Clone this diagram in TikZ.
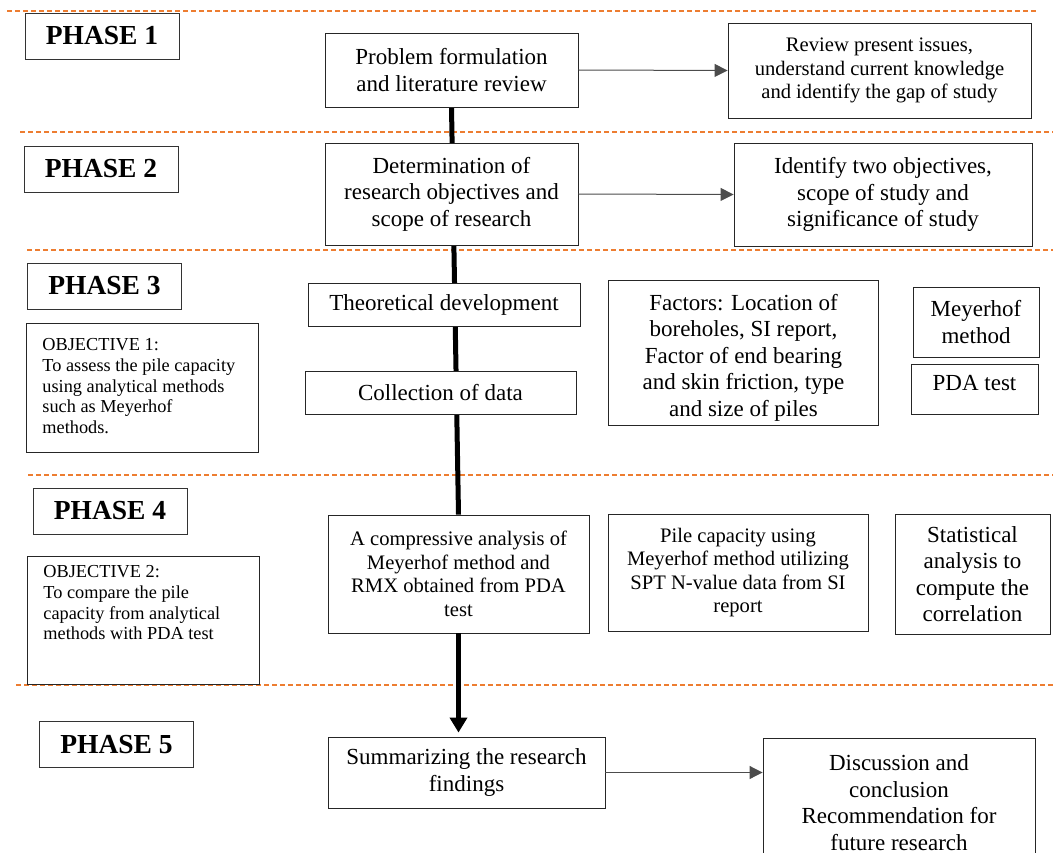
\documentclass[tikz,border=0pt]{standalone}
\usepackage{fontspec}
\setmainfont{Liberation Serif}
\usetikzlibrary{arrows.meta,backgrounds}
\definecolor{sepline}{RGB}{237,125,49}

\begin{document}
\begin{tikzpicture}[
        x=1pt, y=-1pt,
        phase/.style={draw=black!80,line width=0.9pt,fill=white,font=\fontsize{27.5}{30}\selectfont\bfseries,minimum width=154,minimum height=46},
        stepbox/.style={draw=black!85,line width=0.9pt,fill=white,align=center,font=\fontsize{23}{26.5}\selectfont},
        smallbox/.style={stepbox,font=\fontsize{20.6}{23.6}\selectfont},
        objbox/.style={draw=black!85,line width=0.9pt,fill=white,anchor=north west,align=flush left,text width=200,inner xsep=16,text height=14,font=\fontsize{18.3}{20.8}\selectfont},
        link/.style={line width=1pt,black!70,-{Triangle[length=13pt,width=13pt]}},
        spine/.style={line width=5pt,black},
        divider/.style={sepline,line width=1.2pt,dash pattern=on 5pt off 3pt}
    ]
        \useasboundingbox (0,0) rectangle (1053,853);

        % Phase labels
        \node[phase] (ph1) at (102,36) {PHASE 1};
        \node[phase] (ph2) at (101,169) {PHASE 2};
        \node[phase] (ph3) at (104.5,286) {PHASE 3};
        \node[phase] (ph4) at (110,511) {PHASE 4};
        \node[phase] (ph5) at (116.5,744.5) {PHASE 5};

        % Objectives
        \node[objbox,inner ysep=13,text depth=89] (obj1) at (26,323) {OBJECTIVE 1:\\To assess the pile capacity\\using analytical methods\\such as Meyerhof\\methods.};
        \node[objbox,inner ysep=7,text depth=100] (obj2) at (27,556) {OBJECTIVE 2:\\To compare the pile\\capacity from analytical\\methods with PDA test};

        % Main steps
        \node[stepbox,minimum width=253,minimum height=74] (prob) at (451.5,70) {Problem formulation\\and literature review};
        \node[stepbox,minimum width=253,minimum height=102] (det) at (451.5,194) {Determination of\\research objectives and\\scope of research};
        \node[stepbox,minimum width=272,minimum height=43] (theo) at (444,304.5) {Theoretical development};
        \node[stepbox,minimum width=271,minimum height=43] (coll) at (440.5,392.5) {Collection of data};
        \node[smallbox,minimum width=261,minimum height=118] (comp) at (458.5,574) {A compressive analysis of\\Meyerhof method and\\RMX obtained from PDA\\test};
        \node[stepbox,minimum width=277,minimum height=71] (summ) at (466.5,772.5) {Summarizing the research\\findings};

        % Side boxes
        \node[smallbox,minimum width=303,minimum height=95] (review) at (879.5,70.5) {Review present issues,\\understand current knowledge\\and identify the gap of study};
        \node[stepbox,minimum width=298,minimum height=103] (ident) at (883,194.5) {Identify two objectives,\\scope of study and\\significance of study};
        \node[stepbox,anchor=north,align=flush center,text width=260,inner xsep=5,inner ysep=5,text height=25,text depth=110] (fact) at (743.5,280) {Factors: Location of\\boreholes, SI report,\\Factor of end bearing\\and skin friction, type\\and size of piles};
        \node[stepbox,minimum width=126,minimum height=70] (meyer) at (976,322) {Meyerhof\\method};
        \node[stepbox,minimum width=127,minimum height=50,text depth=12] (pda) at (974.5,389) {PDA test};
        \node[smallbox,minimum width=260,minimum height=117] (pile) at (738,572.5) {Pile capacity using\\Meyerhof method utilizing\\SPT N-value data from SI\\report};
        \node[stepbox,minimum width=155,minimum height=120] (stat) at (972.5,574) {Statistical\\analysis to\\compute the\\correlation};
        \node[stepbox,anchor=north,minimum width=272,minimum height=128] (disc) at (899,738) {Discussion and\\conclusion\\Recommendation for\\future research};

        % Phase dividers and the main line behind the boxes
        \begin{scope}[on background layer]
            \foreach \y/\xa/\xb in {11/7/1038,132/20/1053,250/27/1053,475/28/1053,685/16/1053}
                \draw[divider] (\xa,\y) -- (\xb,\y);
            \draw[spine] (prob.south) -- (comp.north);
        \end{scope}
        \draw[spine,-{Triangle[length=15pt,width=17pt]},shorten >=4pt] (comp.south) -- (comp.south |- summ.north);

        % Side arrows
        \draw[link] (prob.east) -- (review.west);
        \draw[link] (det.east) -- (ident.west);
        \draw[link] (summ.east) -- (summ.east -| disc.west);
    \end{tikzpicture}
\end{document}
